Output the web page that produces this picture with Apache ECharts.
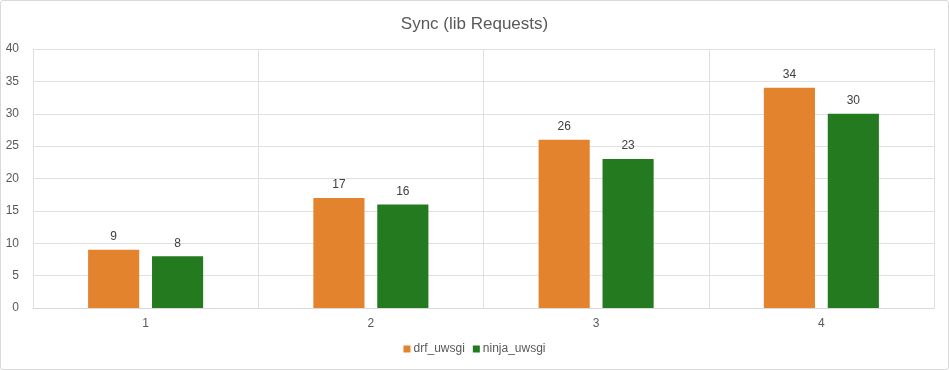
<!DOCTYPE html>
<html><head><meta charset="utf-8">
<script src="https://cdn.jsdelivr.net/npm/echarts@6/dist/echarts.min.js"></script>
<style>
html,body{margin:0;padding:0;background:#fff;}
#wrap{position:absolute;left:0;top:0;width:947px;height:368px;border:1px solid #d9d9d9;border-radius:3px;}
#c{width:947px;height:368px;}
</style></head>
<body><div id="wrap"><div id="c"></div></div>
<script>
const categories = ['1', '2', '3', '4'];
const drfUwsgi = [9, 17, 26, 34];
const ninjaUwsgi = [8, 16, 23, 30];
const seriesNames = ['drf_uwsgi', 'ninja_uwsgi'];

const chart = echarts.init(document.getElementById('c'), null, {renderer: 'canvas'});
const lbl = {show: true, position: 'top', distance: 7, color: '#404040', fontSize: 12, fontFamily: 'Liberation Sans, Arial, sans-serif'};
chart.setOption({
  animation: false,
  textStyle: {fontFamily: 'Liberation Sans, Arial, sans-serif'},
  title: {text: 'Sync (lib Requests)', left: 'center', top: 10,
    textStyle: {fontSize: 17, fontWeight: 'normal', color: '#595959'}},
  legend: {bottom: 9, left: 'center', itemWidth: 7, itemHeight: 7, itemGap: 8, icon: 'rect',
    textStyle: {color: '#595959', fontSize: 12, padding: [0,0,0,-2]}, data: seriesNames},
  grid: {left: 32, right: 14, top: 48, bottom: 61, containLabel: false},
  xAxis: {type: 'category', data: categories,
    axisLine: {lineStyle: {color: '#d9d9d9'}}, axisTick: {show: false},
    axisLabel: {color: '#595959', fontSize: 12, margin: 10},
    splitLine: {show: true, lineStyle: {color: '#e0e0e0'}}},
  yAxis: {type: 'value', min: 0, max: 40, interval: 5,
    axisLine: {show: false}, axisTick: {show: false},
    axisLabel: {color: '#595959', fontSize: 12, margin: 14},
    splitLine: {lineStyle: {color: '#e0e0e0'}}},
  series: [
    {name: seriesNames[0], type: 'bar', data: drfUwsgi, barWidth: '22.7%', barGap: '25%',
      itemStyle: {color: '#E4832E'}, label: lbl},
    {name: seriesNames[1], type: 'bar', data: ninjaUwsgi, barWidth: '22.7%',
      itemStyle: {color: '#237A1F'}, label: lbl}
  ]
});
</script></body></html>
